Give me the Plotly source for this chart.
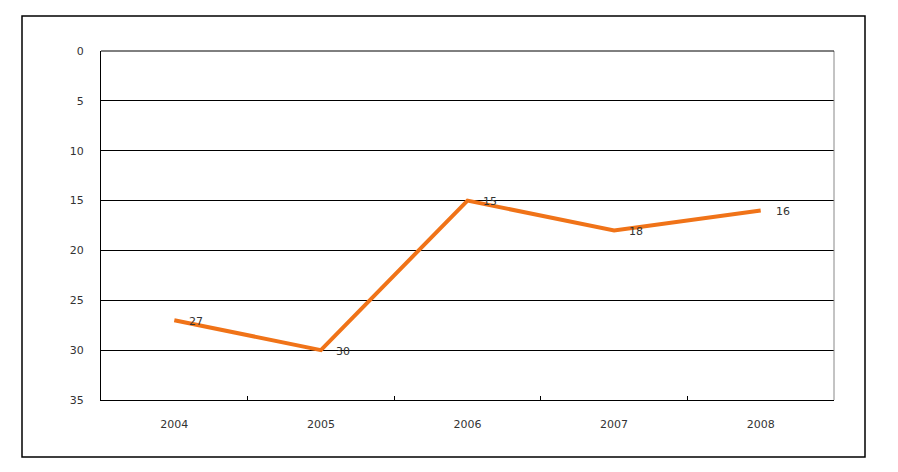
import plotly.graph_objects as go

years = ["2004", "2005", "2006", "2007", "2008"]
values = [27, 30, 15, 18, 16]
y_ticks = [0, 5, 10, 15, 20, 25, 30, 35]

W, H = 898, 472
L, R, T, B = 101, 64, 51, 72
pw, ph = W - L - R, H - T - B


def px_x(p):
    return (p - L) / pw


def px_y(p):
    return (H - B - p) / ph


fig = go.Figure()
fig.add_trace(go.Scatter(
    x=years, y=values, mode="lines",
    line=dict(color="#F07318", width=4),
    hoverinfo="x+y", showlegend=False,
))

fig.update_layout(
    width=W, height=H,
    margin=dict(l=L, r=R, t=T, b=B),
    paper_bgcolor="white", plot_bgcolor="white",
    font=dict(family="DejaVu Sans, Noto Sans CJK KR", size=11, color="#333333"),
    xaxis=dict(
        type="category", range=[-0.5, 4.5],
        showgrid=False, showline=True, linecolor="#000000", linewidth=1,
        mirror=False, ticks="inside", tickson="boundaries", ticklen=4,
        tickcolor="#000000", ticklabelstandoff=14,
        tickfont=dict(size=11, color="#333333"),
    ),
    yaxis=dict(
        range=[35, 0], tickvals=y_ticks, ticktext=[str(t) for t in y_ticks],
        showgrid=True, gridcolor="#000000", gridwidth=1,
        showline=True, linecolor="#000000", linewidth=1,
        ticks="", ticklabelstandoff=14, zeroline=False,
        tickfont=dict(size=11, color="#333333"),
    ),
)

# data labels (category index used as x position on the category axis)
for i, v in enumerate(values):
    fig.add_annotation(xref="x", yref="y", x=i, y=v, text=str(v), showarrow=False,
                       xanchor="left", yanchor="middle", xshift=13, yshift=-1,
                       font=dict(size=11, color="#333333"))

# outer chart border
fig.add_shape(type="rect", xref="paper", yref="paper",
              x0=px_x(22), x1=px_x(865), y0=px_y(457), y1=px_y(16),
              line=dict(color="#000000", width=1.5), layer="below")
# right side of plot area in grey, top in black
fig.add_shape(type="line", xref="paper", yref="paper", x0=1, x1=1, y0=0, y1=1,
              line=dict(color="#888888", width=1))
fig.add_shape(type="line", xref="paper", yref="paper", x0=0, x1=1, y0=1, y1=1,
              line=dict(color="#000000", width=1))

fig.write_html("out.html")
